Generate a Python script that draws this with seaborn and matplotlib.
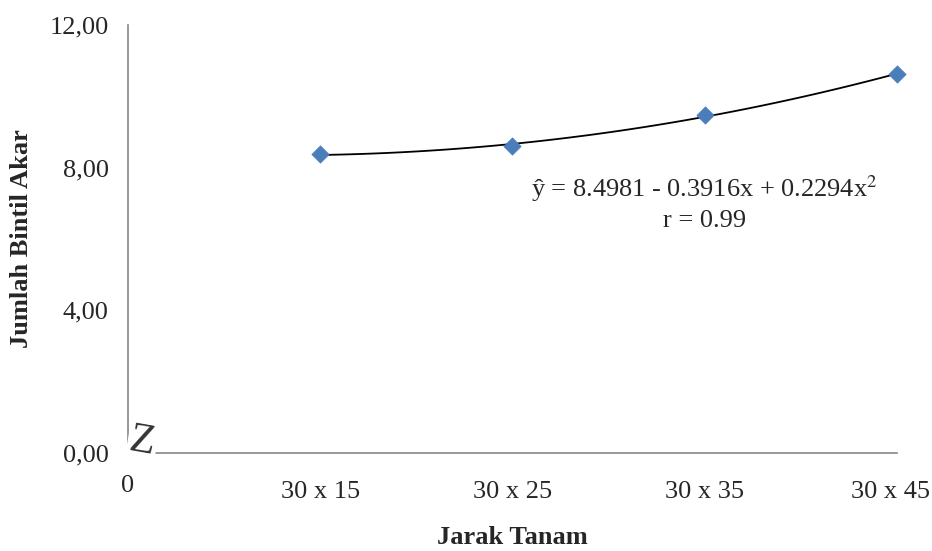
import numpy as np
import pandas as pd
import matplotlib
matplotlib.use("Agg")
import matplotlib.pyplot as plt
import matplotlib.transforms as mtransforms
import seaborn as sns

# data
jarak = ["30 x 15", "30 x 25", "30 x 35", "30 x 45"]
posisi = [1, 2, 3, 4]
bintil = [8.37, 8.62, 9.47, 10.62]
y_ticks = [0, 4, 8, 12]
y_labels = ["0,00", "4,00", "8,00", "12,00"]
persamaan = "ŷ = 8.4981 - 0.3916x + 0.2294x$^2$"
nilai_r = "r = 0.99"

df = pd.DataFrame({"posisi": posisi, "bintil": bintil, "jarak": jarak})

sns.set_style("white")
plt.rcParams["font.family"] = ["Liberation Serif", "DejaVu Serif"]
plt.rcParams["mathtext.fontset"] = "stix"

fs = 19
fig = plt.figure(figsize=(9.32, 5.51), dpi=100)
ax = fig.add_axes([0.1373, 0.1779, 0.8251, 0.7768])

# garis trend kuadratik
sns.regplot(data=df, x="posisi", y="bintil", order=2, ci=None, scatter=False,
            line_kws={"color": "black", "lw": 1.3}, ax=ax)
sns.scatterplot(data=df, x="posisi", y="bintil", marker="D", s=75,
                color="#4a7ebb", edgecolor="#4a7ebb", zorder=3, clip_on=False, ax=ax)

ax.set_xlim(0, 4)
ax.set_ylim(0, 12)
ax.set_yticks(y_ticks)
ax.set_yticklabels(y_labels, fontsize=fs)
ax.set_xticks(posisi)
ax.set_xticklabels(jarak, fontsize=fs)
ax.tick_params(axis="both", direction="out", length=5, color="#868686", width=1)
ax.tick_params(axis="x", pad=15)
ax.tick_params(axis="y", pad=9)

# geser label terakhir sedikit ke kiri supaya tidak terpotong
lbl = ax.get_xticklabels()[-1]
lbl.set_transform(lbl.get_transform() +
                  mtransforms.ScaledTranslation(-6 / 100, 0, fig.dpi_scale_trans))

for s in ["top", "right"]:
    ax.spines[s].set_visible(False)
for s in ["left", "bottom"]:
    ax.spines[s].set_color("#868686")
    ax.spines[s].set_linewidth(1.2)

ax.set_xlabel("Jarak Tanam", fontsize=fs, fontweight="bold", labelpad=17)
ax.set_ylabel("Jumlah Bintil Akar", fontsize=fs, fontweight="bold", labelpad=12)

# angka 0 di pojok dan tanda patah sumbu
ax.text(0, -0.077, "0", transform=ax.transAxes, ha="center", va="center", fontsize=fs)
ax.text(0.075, 0.3, "Z", fontsize=30, ha="center", va="center", rotation=-10,
        color="#333333", clip_on=False,
        bbox=dict(boxstyle="square,pad=0.05", fc="white", ec="none"))

ax.text(3.0, 7.4, persamaan, fontsize=fs, ha="center", va="center")
ax.text(3.0, 6.5, nilai_r, fontsize=fs, ha="center", va="center")

fig.savefig("out.png", dpi=100)
